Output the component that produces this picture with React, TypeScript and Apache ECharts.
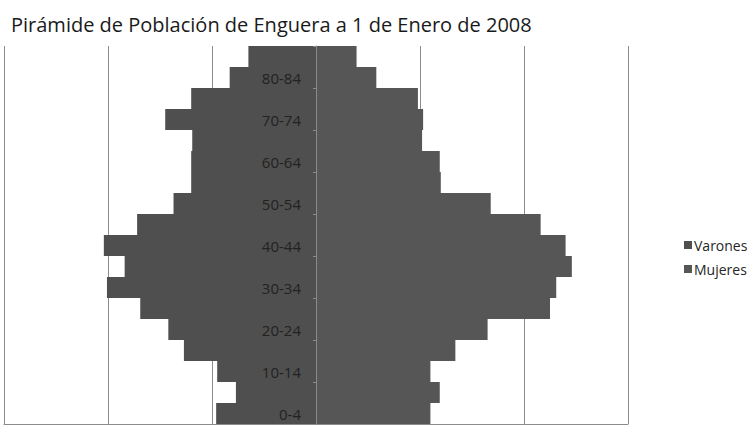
import React, { useEffect, useRef } from "react";
import * as echarts from "echarts";

const ageGroups = ["0-4","5-9","10-14","15-19","20-24","25-29","30-34","35-39","40-44","45-49","50-54","55-59","60-64","65-69","70-74","75-79","80-84","85+"];
const varones = [96, 77, 95, 127, 142, 169, 201, 184, 204, 172, 137, 120, 120, 119, 145, 120, 83, 65];
const mujeres = [110, 119, 110, 134, 165, 225, 231, 246, 240, 216, 168, 120, 119, 102, 103, 98, 58, 39];
const seriesNames = ["Varones", "Mujeres"];
const titleText = "Pirámide de Población de Enguera a 1 de Enero de 2008";

export default function App() {
  const ref = useRef<HTMLDivElement>(null);
  useEffect(() => {
    if (!ref.current) return;
    const chart = echarts.init(ref.current, null, { renderer: "svg" });
    chart.setOption({
      animation: false,
      backgroundColor: "#ffffff",
      title: {
        text: titleText,
        left: 6,
        top: 9,
        textStyle: { fontFamily: "Open Sans", fontSize: 20, fontWeight: "normal", color: "#1a1a1a" },
      },
      legend: {
        orient: "vertical",
        left: 679,
        top: 233,
        itemWidth: 8,
        itemHeight: 8,
        itemGap: 10,
        icon: "rect",
        textStyle: { fontFamily: "Open Sans", fontSize: 14, color: "#262626", padding: [0, 0, 0, -3] },
        data: seriesNames,
      },
      grid: { left: 4, right: 124, top: 46, bottom: 3, containLabel: false, outerBoundsMode: "none" },
      xAxis: {
        type: "value",
        min: -300,
        max: 300,
        interval: 100,
        axisLabel: { show: false },
        axisTick: { show: false },
        axisLine: { show: true, lineStyle: { color: "#8c8c8c", width: 1 } },
        splitLine: { show: true, lineStyle: { color: "#8c8c8c", width: 1 } },
      },
      yAxis: {
        type: "category",
        data: ageGroups,
        z: 5,
        position: "left",
        offset: -312,
        axisLine: { show: true, onZero: false, lineStyle: { color: "#8a8a8a", width: 1 } },
        axisTick: { show: true, length: 3, lineStyle: { color: "#8a8a8a" } },
        axisLabel: {
          interval: 1,
          margin: 15,
          fontFamily: "Open Sans",
          fontSize: 15,
          color: "#222222",
        },
      },
      series: [
        {
          name: seriesNames[0],
          type: "bar",
          data: varones.map((v) => -v),
          barCategoryGap: 0,
          barGap: "-100%",
          itemStyle: { color: "#4f4f4f" },
        },
        {
          name: seriesNames[1],
          type: "bar",
          data: mujeres,
          barCategoryGap: 0,
          barGap: "-100%",
          itemStyle: { color: "#565656" },
        },
      ],
    });
    return () => chart.dispose();
  }, []);
  return <div ref={ref} style={{ width: 752, height: 427, position: "absolute", left: 0, top: 0 }} />;
}
